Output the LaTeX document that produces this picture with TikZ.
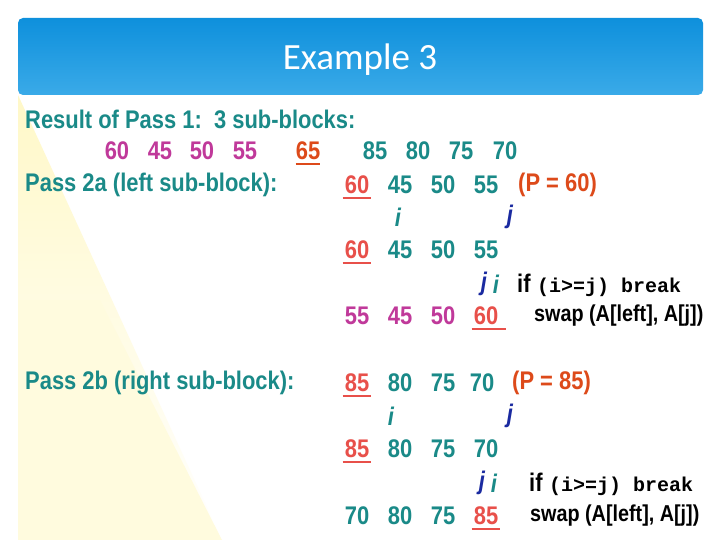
\documentclass[tikz,border=0pt]{standalone}
\usepackage{fontspec}
\setmainfont{Liberation Sans}[FakeStretch=0.86]
\newfontfamily\titlefont{Carlito}
\newfontfamily\codefont{Liberation Mono}
\usetikzlibrary{calc}
\definecolor{teal1}{HTML}{1A8A88}
\definecolor{mag}{HTML}{C0399A}
\definecolor{sal}{HTML}{E8504A}
\definecolor{ored}{HTML}{DD4A1A}
\definecolor{jblue}{HTML}{1A2AA0}
\definecolor{barA}{HTML}{0E90DC}
\definecolor{barB}{HTML}{3AAAE8}
\definecolor{pale}{HTML}{FFF8C8}
\begin{document}
\begin{tikzpicture}[x=1pt,y=-1pt,
  txt/.style={inner sep=0pt,font=\bfseries\fontsize{25.5}{28}\selectfont},
  lbl/.style={txt,anchor=west,text=teal1},
  num/.style={txt,text=teal1},
  nmag/.style={txt,text=mag},
  pivot/.style={txt,text=sal},
  ul/.style={draw=sal,line width=2.4pt},
  iv/.style={txt,text=teal1,font=\bfseries\itshape\fontsize{25.5}{28}\selectfont},
  jv/.style={txt,text=jblue,font=\bfseries\itshape\fontsize{25.5}{28}\selectfont},
  note/.style={txt,anchor=base west,text=black},
  swp/.style={inner sep=0pt,anchor=west,text=black,font=\bfseries\fontsize{23}{26}\selectfont},
  code/.style={inner sep=0pt,anchor=base west,font=\codefont\bfseries\fontsize{20}{22}\selectfont}]
\useasboundingbox (0,0) rectangle (720,540);
\fill[white] (0,0) rectangle (720,540);
\shade[left color=pale,right color=white,shading angle=0] (18,95) -- (18,540) -- (222,540) -- cycle;
\fill[pale!60] (18,300) -- (18,540) -- (222,540) -- (100,300) -- cycle;
\shade[top color=barA,bottom color=barB,rounded corners=5pt] (18,95) -- (18,18) -- (703,18) -- (703,95) -- cycle;
\node[inner sep=0pt,text=white,font=\titlefont\fontsize{37}{40}\selectfont] (title) at (360,60) {Example 3};
% row 1
\node[lbl] (r1) at (25,119) {Result of Pass 1:\ \ 3 sub-blocks:};
\foreach \v/\x [count=\k] in {60/117,45/160,50/202,55/245}{\node[nmag] (a\k) at (\x,151) {\v};}
\node[txt,text=ored] (a5) at (308,151) {65};
\draw[draw=ored,line width=2.4pt] ($(a5.south west)+(0,4)$) -- ($(a5.south east)+(0,4)$);
\foreach \v/\x [count=\k] in {85/375,80/418,75/461,70/505}{\node[num] (b\k) at (\x,151) {\v};}
% pass 2a
\node[lbl] (p2a) at (25,185) {Pass 2a (left sub-block):};
\node[pivot] (c1) at (357,185) {60};
\foreach \v/\x [count=\k from 2] in {45/400,50/443,55/486}{\node[num] (c\k) at (\x,185) {\v};}
\node[txt,anchor=west,text=ored] (pc) at (518,185) {(P = 60)};
\node[iv] (i1) at (398,217) {i};
\node[jv] (j1) at (510,217) {j};
\node[pivot] (d1) at (357,250) {60};
\foreach \v/\x [count=\k from 2] in {45/400,50/443,55/486}{\node[num] (d\k) at (\x,250) {\v};}
\node[jv] (j2) at (484,284) {j};
\node[iv] (i2) at (496,284) {i};
\node[note] (if1) at (517,292) {if};
\node[code] (if1c) at (537,292) {(i>=j) break};
\foreach \v/\x [count=\k] in {55/357,45/400,50/443}{\node[nmag] (e\k) at (\x,316) {\v};}
\node[pivot] (e4) at (486,316) {60};
\node[swp] (sw1) at (534,316) {swap (A[left], A[j])};
% pass 2b
\node[lbl] (p2b) at (25,383) {Pass 2b (right sub-block):};
\node[pivot] (f1) at (357,383) {85};
\foreach \v/\x [count=\k from 2] in {80/400,75/443,70/482}{\node[num] (f\k) at (\x,383) {\v};}
\node[txt,anchor=west,text=ored] (pf) at (512,383) {(P = 85)};
\node[iv] (i3) at (391,416) {i};
\node[jv] (j3) at (510,416) {j};
\node[pivot] (g1) at (357,449) {85};
\foreach \v/\x [count=\k from 2] in {80/400,75/443,70/486}{\node[num] (g\k) at (\x,449) {\v};}
\node[jv] (j4) at (482,483) {j};
\node[iv] (i4) at (494,483) {i};
\node[note] (if2) at (529,491) {if};
\node[code] (if2c) at (549,491) {(i>=j) break};
\foreach \v/\x [count=\k] in {70/357,80/400,75/443}{\node[num] (h\k) at (\x,516) {\v};}
\node[pivot] (h4) at (486,516) {85};
\node[swp] (sw2) at (530,516) {swap (A[left], A[j])};
% underlines
\foreach \n in {c1,d1,f1,g1,h4}{\draw[ul] ($(\n.south west)+(-2,4)$) -- ($(\n.south east)+(2,4)$);}
\draw[ul] ($(e4.south west)+(-2,4)$) -- ($(e4.south east)+(8,4)$);
\end{tikzpicture}
\end{document}
